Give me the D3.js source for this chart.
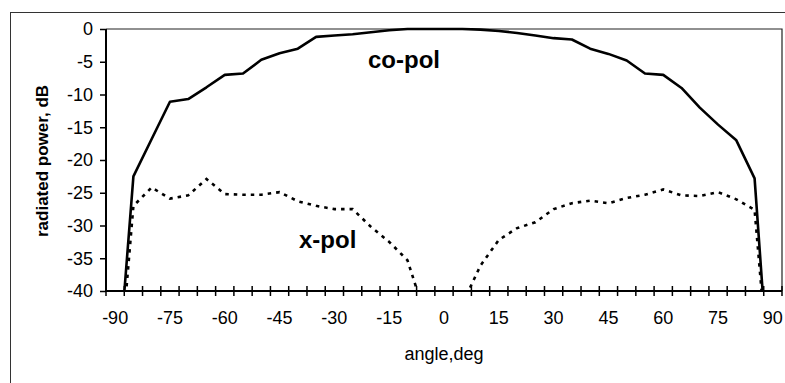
<!DOCTYPE html>
<html>
<head>
<meta charset="utf-8">
<script src="https://cdn.jsdelivr.net/npm/d3@7"></script>
<style>
  html, body { margin: 0; padding: 0; background: #fff; }
  svg { display: block; }
  text { font-family: "Liberation Sans", Arial, sans-serif; fill: #000; }
</style>
</head>
<body>
<svg id="chart" width="785" height="383"></svg>
<script>
// ---- data ----
const angles = [-90,-85,-80,-75,-70,-65,-60,-55,-50,-45,-40,-35,-30,-25,-20,-15,-10,-5,0,5,10,15,20,25,30,35,40,45,50,55,60,65,70,75,80,85,90];
const coPol  = [-58,-22.5,-16.8,-11.1,-10.7,-8.9,-7.0,-6.8,-4.7,-3.7,-3.0,-1.2,-1.0,-0.8,-0.5,-0.2,0,0,0,0,-0.1,-0.3,-0.6,-1.0,-1.4,-1.6,-3.0,-3.8,-4.8,-6.8,-7.0,-9.0,-12.0,-14.6,-17.0,-22.8,-62];
const xPol   = [-60,-27,-24.2,-25.9,-25.4,-22.9,-25.2,-25.3,-25.3,-24.9,-26.3,-27.0,-27.5,-27.5,-30.2,-32.5,-35.3,-44,-50,-42,-36.1,-32.2,-30.4,-29.5,-27.5,-26.6,-26.2,-26.6,-25.8,-25.3,-24.5,-25.4,-25.5,-24.9,-26.0,-27.6,-60];
const xTickLabels = [-90,-75,-60,-45,-30,-15,0,15,30,45,60,75,90];
const yTicks = [0,-5,-10,-15,-20,-25,-30,-35,-40];
const seriesLabels = ["co-pol", "x-pol"];
const xTitle = "angle,deg";
const yTitle = "radiated power, dB";

// ---- layout ----
const svg = d3.select("#chart");
const L = 106, R = 782, T = 29, B = 291;

// outer frame
svg.append("rect").attr("x", 10.5).attr("y", 12.5).attr("width", 820).attr("height", 420)
  .attr("fill", "none").attr("stroke", "#333").attr("stroke-width", 1);

const xb = d3.scaleBand().domain(angles).range([L, R]).paddingInner(0).paddingOuter(0);
const xc = a => xb(a) + xb.bandwidth() / 2;
const y = d3.scaleLinear().domain([-40, 0]).range([B, T]);

// plot area border (top and right)
svg.append("path").attr("d", `M${L},${T}H${R}V${B}`).attr("fill", "none")
  .attr("stroke", "#222").attr("stroke-width", 1.2);

// clip
svg.append("clipPath").attr("id", "clip").append("rect")
  .attr("x", L).attr("y", T - 2).attr("width", R - L).attr("height", B - T + 2);

const line = d3.line().x((d, i) => xc(angles[i])).y(d => y(d));
const g = svg.append("g").attr("clip-path", "url(#clip)");
g.append("path").datum(xPol).attr("d", line).attr("fill", "none")
  .attr("stroke", "#000").attr("stroke-width", 2.6).attr("stroke-dasharray", "3.5,5");
g.append("path").datum(coPol).attr("d", line).attr("fill", "none")
  .attr("stroke", "#000").attr("stroke-width", 2.6).attr("stroke-linejoin", "round");

// y axis
const yAxis = d3.axisLeft(y).tickValues(yTicks).tickSize(6).tickPadding(7).tickFormat(d3.format("d"));
const ya = svg.append("g").attr("transform", `translate(${L},0)`).call(yAxis);
ya.select(".domain").attr("stroke", "#000").attr("stroke-width", 2).attr("d", `M0,${T}V${B}`);
ya.selectAll(".tick line").attr("stroke", "#000").attr("stroke-width", 1.5);
ya.selectAll(".tick text").attr("font-size", 18).attr("font-family", "Liberation Sans, Arial, sans-serif")
  .text(d => d === 0 ? "0" : String(d).replace("-", "-"));

// x axis line
svg.append("line").attr("x1", L).attr("x2", R).attr("y1", B).attr("y2", B)
  .attr("stroke", "#000").attr("stroke-width", 2);
// tick marks at category boundaries (cross)
const bounds = angles.map(a => xb(a)).concat([xb(angles[angles.length - 1]) + xb.bandwidth()]);
svg.append("g").selectAll("line").data(bounds).join("line")
  .attr("x1", d => d).attr("x2", d => d).attr("y1", B - 5).attr("y2", B + 5)
  .attr("stroke", "#000").attr("stroke-width", 1.5);
// x labels
svg.append("g").selectAll("text").data(xTickLabels).join("text")
  .attr("x", d => xc(d)).attr("y", 324).attr("text-anchor", "middle")
  .attr("font-size", 18).text(d => String(d));

// titles
svg.append("text").attr("x", (L + R) / 2 + 0).attr("y", 360).attr("text-anchor", "middle")
  .attr("font-size", 18).text(xTitle);
svg.append("text").attr("transform", "translate(48,161) rotate(-90)").attr("text-anchor", "middle")
  .attr("font-size", 17).attr("font-weight", "bold").text(yTitle);

// series labels
svg.append("text").attr("x", 404).attr("y", 68).attr("text-anchor", "middle")
  .attr("font-size", 24).attr("font-weight", "bold").text(seriesLabels[0]);
svg.append("text").attr("x", 299).attr("y", 248).attr("text-anchor", "start")
  .attr("font-size", 24).attr("font-weight", "bold").text(seriesLabels[1]);
</script>
</body>
</html>
